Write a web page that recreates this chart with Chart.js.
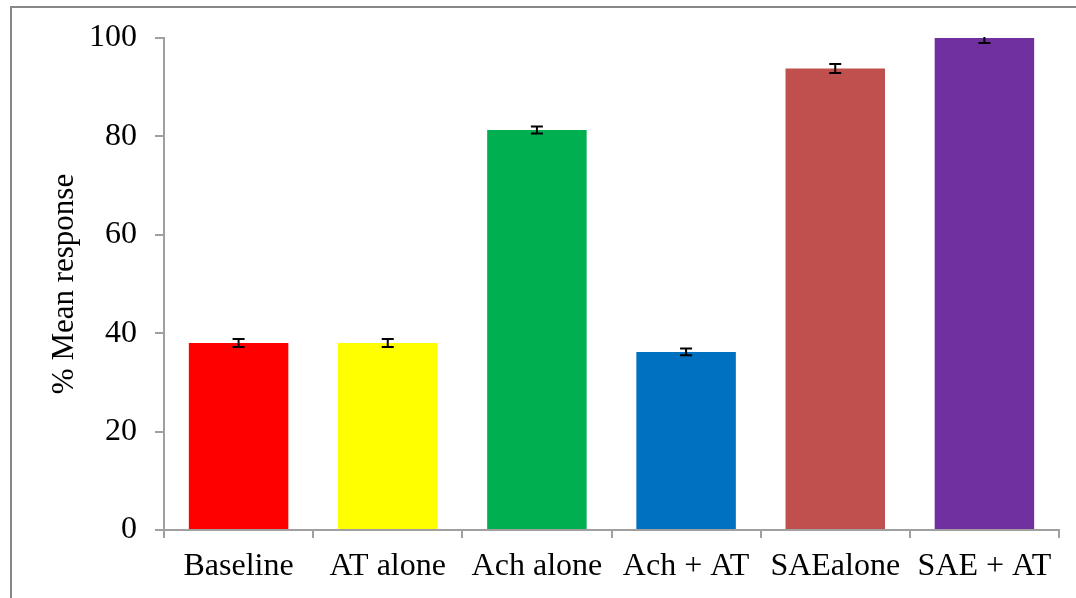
<!DOCTYPE html>
<html lang="en">
<head>
    <meta charset="UTF-8">
    <title>% Mean response</title>
    <script src="https://cdn.jsdelivr.net/npm/chart.js"></script>
    <style>
        body {
            margin: 0;
            background: #fff;
        }
        #wrap {
            position: relative;
            width: 1076px;
            height: 598px;
            overflow: hidden;
        }
        #frame {
            position: absolute;
            left: 10px;
            top: 6px;
            width: 1200px;
            height: 800px;
            border: 2px solid #878787;
        }
        canvas {
            position: absolute;
            left: 0;
            top: 0;
        }
    </style>
</head>
<body>
<div id="wrap">
    <div id="frame"></div>
    <canvas id="responseChart" width="1076" height="598"></canvas>
</div>

<script>
    const categories = ['Baseline', 'AT alone', 'Ach alone', 'Ach + AT', 'SAEalone', 'SAE + AT'];
    const meanResponse = [38.0, 38.0, 81.3, 36.2, 93.8, 100];
    const errorValues = [0.8, 0.8, 0.7, 0.7, 0.9, 1.0];
    const barColors = ['#FF0000', '#FFFF00', '#00B050', '#0070C0', '#C0504D', '#7030A0'];
    const yTicks = [0, 20, 40, 60, 80, 100];

    const serif = "'Liberation Serif', 'Times New Roman', serif";

    // draw the little I-shaped error bars on top of each bar
    const errorBars = {
        id: 'errorBars',
        afterDatasetsDraw(chart) {
            const ctx = chart.ctx;
            const y = chart.scales.y;
            const area = chart.chartArea;
            const meta = chart.getDatasetMeta(0);
            ctx.save();
            ctx.beginPath();
            ctx.rect(area.left, area.top - 1, area.right - area.left, area.bottom - area.top + 1);
            ctx.clip();
            ctx.strokeStyle = '#000';
            ctx.lineWidth = 2;
            meta.data.forEach((bar, i) => {
                const hi = y.getPixelForValue(meanResponse[i] + errorValues[i]);
                const lo = y.getPixelForValue(meanResponse[i] - errorValues[i]);
                const x = bar.x;
                ctx.beginPath();
                ctx.moveTo(x, hi);
                ctx.lineTo(x, lo);
                ctx.moveTo(x - 6, hi);
                ctx.lineTo(x + 6, hi);
                ctx.moveTo(x - 6, lo);
                ctx.lineTo(x + 6, lo);
                ctx.stroke();
            });
            ctx.restore();
        }
    };

    new Chart(document.getElementById('responseChart'), {
        type: 'bar',
        data: {
            labels: categories,
            datasets: [{
                data: meanResponse,
                backgroundColor: barColors,
                borderWidth: 0,
                barPercentage: 0.667,
                categoryPercentage: 1.0
            }]
        },
        options: {
            responsive: false,
            animation: false,
            layout: {
                padding: { left: 12, top: 38, right: 17, bottom: 0 }
            },
            plugins: {
                legend: { display: false },
                tooltip: { enabled: false }
            },
            scales: {
                x: {
                    grid: {
                        display: true,
                        offset: true,
                        drawOnChartArea: false,
                        tickLength: 8,
                        color: '#A0A0A0',
                        lineWidth: 2
                    },
                    border: { color: '#A0A0A0', width: 2 },
                    ticks: {
                        color: '#000',
                        padding: 9,
                        maxRotation: 0,
                        autoSkip: false,
                        font: { family: serif, size: 32 }
                    },
                    afterFit(scale) {
                        scale.height = 68;
                    }
                },
                y: {
                    min: 0,
                    max: 100,
                    afterBuildTicks(scale) {
                        scale.ticks = yTicks.map(v => ({ value: v }));
                    },
                    grid: {
                        drawOnChartArea: false,
                        tickLength: 9,
                        color: '#A0A0A0',
                        lineWidth: 2
                    },
                    border: { color: '#A0A0A0', width: 2 },
                    ticks: {
                        color: '#000',
                        padding: 18,
                        font: { family: serif, size: 32 }
                    },
                    title: {
                        display: true,
                        text: '% Mean response',
                        color: '#000',
                        padding: { top: 34, bottom: 0 },
                        font: { family: serif, size: 31 }
                    },
                    afterFit(scale) {
                        scale.width = 152;
                    }
                }
            }
        },
        plugins: [errorBars]
    });
</script>
</body>
</html>
